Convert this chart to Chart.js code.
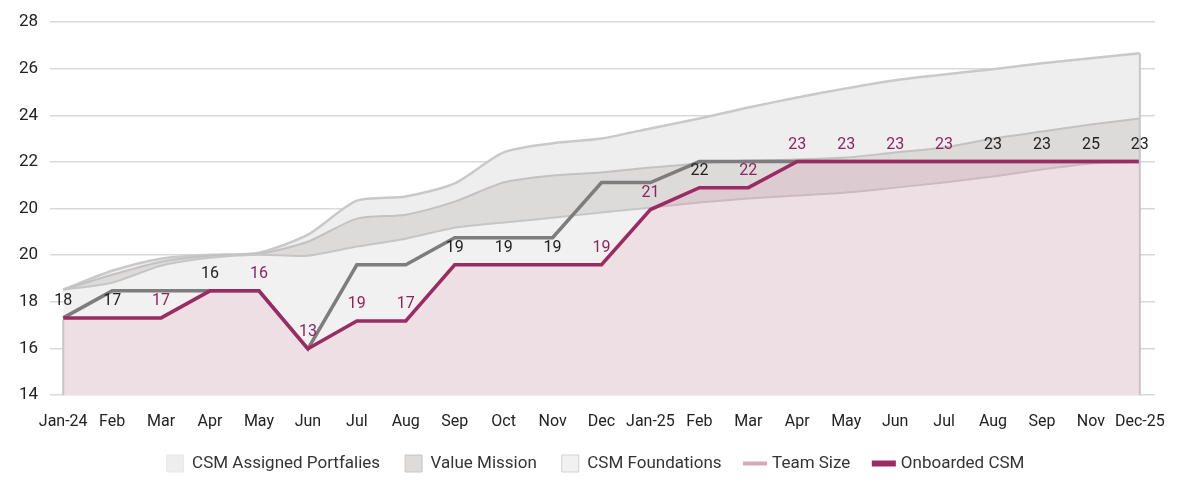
<!DOCTYPE html>
<html lang="en">
<head>
<meta charset="UTF-8">
<title>CSM Capacity</title>
<script src="https://cdn.jsdelivr.net/npm/chart.js"></script>
<style>
    html, body { margin: 0; padding: 0; background: #fff; }
    .chart-box { position: relative; width: 1181px; height: 499px; }
</style>
</head>
<body>
<div class="chart-box"><canvas id="capacityChart"></canvas></div>
<script>
const months = ['Jan-24', 'Feb', 'Mar', 'Apr', 'May', 'Jun', 'Jul', 'Aug', 'Sep', 'Oct', 'Nov', 'Dec',
                'Jan-25', 'Feb', 'Mar', 'Apr', 'May', 'Jun', 'Jul', 'Aug', 'Sep', 'Nov', 'Dec-25'];

// axis positions and the labels printed on them ("20" is printed twice)
const yTickValues = [14, 16, 18, 20, 22, 24, 26, 28, 30];
const yTickLabels = ['14', '16', '18', '20', '20', '22', '24', '26', '28'];

// series in axis units
const assignedPortfolios = [18.52, 19.33, 19.85, 20.02, 20.11, 20.88, 22.34, 22.52, 23.08, 24.41, 24.80, 25.01,
                            25.44, 25.87, 26.34, 26.77, 27.16, 27.51, 27.76, 27.98, 28.24, 28.45, 28.67];
const valueMission = [18.52, 19.16, 19.72, 19.98, 20.06, 20.58, 21.57, 21.74, 22.30, 23.12, 23.42, 23.55,
                      23.76, 23.94, 24.06, 24.11, 24.19, 24.41, 24.62, 25.01, 25.31, 25.61, 25.87];
const csmFoundations = [18.52, 18.82, 19.55, 19.89, 20.02, 19.98, 20.37, 20.71, 21.18, 21.40, 21.61, 21.83,
                        22.04, 22.26, 22.43, 22.56, 22.69, 22.90, 23.12, 23.38, 23.68, 23.94, 24.02];
const teamSize = [17.31, 18.47, 18.47, 18.47, 18.47, 15.98, 19.59, 19.59, 20.75, 20.75, 20.75, 23.12,
                  23.12, 24.02, 24.02, 24.02, 24.02, 24.02, 24.02, 24.02, 24.02, 24.02, 24.02];
const onboardedCsm = [17.31, 17.31, 17.31, 18.47, 18.47, 15.98, 17.18, 17.18, 19.59, 19.59, 19.59, 19.59,
                      21.96, 22.90, 22.90, 24.02, 24.02, 24.02, 24.02, 24.02, 24.02, 24.02, 24.02];

// numbers printed above the onboarded line
const pointLabels = ['18', '17', '17', '16', '16', '13', '19', '17', '19', '19', '19', '19',
                     '21', '22', '22', '23', '23', '23', '23', '23', '23', '25', '23'];

const magentaLabels = [2, 4, 5, 6, 7, 11, 12, 14, 15, 16, 17, 18];
const FONT = 'Roboto, "Noto Sans", sans-serif';

function pts(arr) {
    return arr.map((v, i) => ({ x: i, y: v }));
}

const legendLook = [
    { pointStyle: 'rect', fillStyle: '#eeeeee', strokeStyle: '#e8e8e8', lineWidth: 1 },
    { pointStyle: 'rect', fillStyle: '#dedbdb', strokeStyle: '#c9c6c6', lineWidth: 1 },
    { pointStyle: 'rect', fillStyle: '#f1f1f1', strokeStyle: '#d3d3d3', lineWidth: 1 },
    { pointStyle: 'line', fillStyle: '#d9a5b9', strokeStyle: '#d9a5b9', lineWidth: 4 },
    { pointStyle: 'line', fillStyle: '#9a2b63', strokeStyle: '#9a2b63', lineWidth: 6 }
];

// vertical edges of the filled areas
const edgePlugin = {
    id: 'areaEdges',
    afterDatasetsDraw(chart) {
        const xs = chart.scales.x, ys = chart.scales.y;
        const ctx = chart.ctx;
        const last = months.length - 1;
        const bottom = ys.getPixelForValue(ys.min);
        ctx.save();
        ctx.strokeStyle = '#c6c6c6';
        ctx.lineWidth = 2;
        ctx.beginPath();
        ctx.moveTo(xs.getPixelForValue(0), ys.getPixelForValue(onboardedCsm[0]) + 2);
        ctx.lineTo(xs.getPixelForValue(0), bottom);
        ctx.moveTo(xs.getPixelForValue(last), ys.getPixelForValue(assignedPortfolios[last]));
        ctx.lineTo(xs.getPixelForValue(last), bottom);
        ctx.stroke();
        ctx.restore();
    }
};

const labelPlugin = {
    id: 'pointLabels',
    afterDatasetsDraw(chart) {
        const meta = chart.getDatasetMeta(4);
        const ctx = chart.ctx;
        ctx.save();
        ctx.font = '16px ' + FONT;
        ctx.textAlign = 'center';
        ctx.textBaseline = 'middle';
        meta.data.forEach((p, i) => {
            ctx.fillStyle = magentaLabels.includes(i) ? '#8e2459' : '#222';
            ctx.fillText(pointLabels[i], p.x, p.y - 17);
        });
        ctx.restore();
    }
};

// the legend sits a little right of the canvas centre
const legendShift = {
    id: 'legendShift',
    afterLayout(chart) {
        chart.legend.left += 18;
        chart.legend.right += 18;
    }
};

const ctx = document.getElementById('capacityChart').getContext('2d');
new Chart(ctx, {
    type: 'line',
    data: {
        datasets: [
            {
                label: 'CSM Assigned Portfalies',
                data: pts(assignedPortfolios),
                borderColor: '#c9c9c9',
                borderWidth: 2.5,
                backgroundColor: '#eeeeee',
                fill: '+1',
                tension: 0.25,
                order: 4
            },
            {
                label: 'Value Mission',
                data: pts(valueMission),
                borderColor: '#c3c1c1',
                borderWidth: 2,
                backgroundColor: '#dddada',
                fill: '+1',
                tension: 0.25,
                order: 3
            },
            {
                label: 'CSM Foundations',
                data: pts(csmFoundations),
                borderColor: '#c6c6c6',
                borderWidth: 2,
                backgroundColor: '#f2f1f1',
                fill: 'origin',
                tension: 0.25,
                order: 2
            },
            {
                label: 'Team Size',
                data: pts(teamSize),
                borderColor: '#7d7d7d',
                borderWidth: 3.5,
                fill: false,
                tension: 0,
                order: 1
            },
            {
                label: 'Onboarded CSM',
                data: pts(onboardedCsm),
                borderColor: '#9a2b63',
                borderWidth: 3.5,
                backgroundColor: 'rgba(220, 130, 168, 0.16)',
                fill: 'origin',
                tension: 0,
                order: 0
            }
        ]
    },
    options: {
        responsive: true,
        maintainAspectRatio: false,
        animation: false,
        layout: { padding: { top: 22, right: 26, bottom: 17, left: 0 } },
        elements: { point: { radius: 0, hoverRadius: 0 } },
        scales: {
            x: {
                type: 'linear',
                min: -0.27,
                max: months.length - 1 + 0.31,
                afterBuildTicks: (scale) => { scale.ticks = months.map((_, i) => ({ value: i })); },
                afterFit: (scale) => { scale.height = 35; },
                grid: { display: false },
                border: { display: false },
                ticks: {
                    autoSkip: false,
                    maxRotation: 0,
                    padding: 9,
                    color: '#222',
                    font: { family: FONT, size: 16 },
                    callback: (v) => months[v]
                }
            },
            y: {
                min: 14,
                max: 30,
                afterBuildTicks: (scale) => { scale.ticks = yTickValues.map(v => ({ value: v })); },
                afterFit: (scale) => { scale.width = 50; },
                grid: { color: '#d9d9d9', lineWidth: 1.5, drawTicks: false },
                border: { display: false },
                ticks: {
                    padding: 12,
                    color: '#222',
                    font: { family: FONT, size: 17 },
                    callback: (v) => yTickLabels[yTickValues.indexOf(v)]
                }
            }
        },
        plugins: {
            tooltip: { enabled: false },
            legend: {
                position: 'bottom',
                labels: {
                    usePointStyle: true,
                    boxWidth: 17,
                    boxHeight: 17,
                    padding: 25,
                    color: '#333',
                    font: { family: FONT, size: 17 },
                    sort: (a, b) => a.datasetIndex - b.datasetIndex,
                    generateLabels(chart) {
                        const items = Chart.defaults.plugins.legend.labels.generateLabels(chart);
                        items.forEach(item => Object.assign(item, legendLook[item.datasetIndex]));
                        return items;
                    }
                }
            }
        }
    },
    plugins: [edgePlugin, labelPlugin, legendShift]
});
</script>
</body>
</html>
